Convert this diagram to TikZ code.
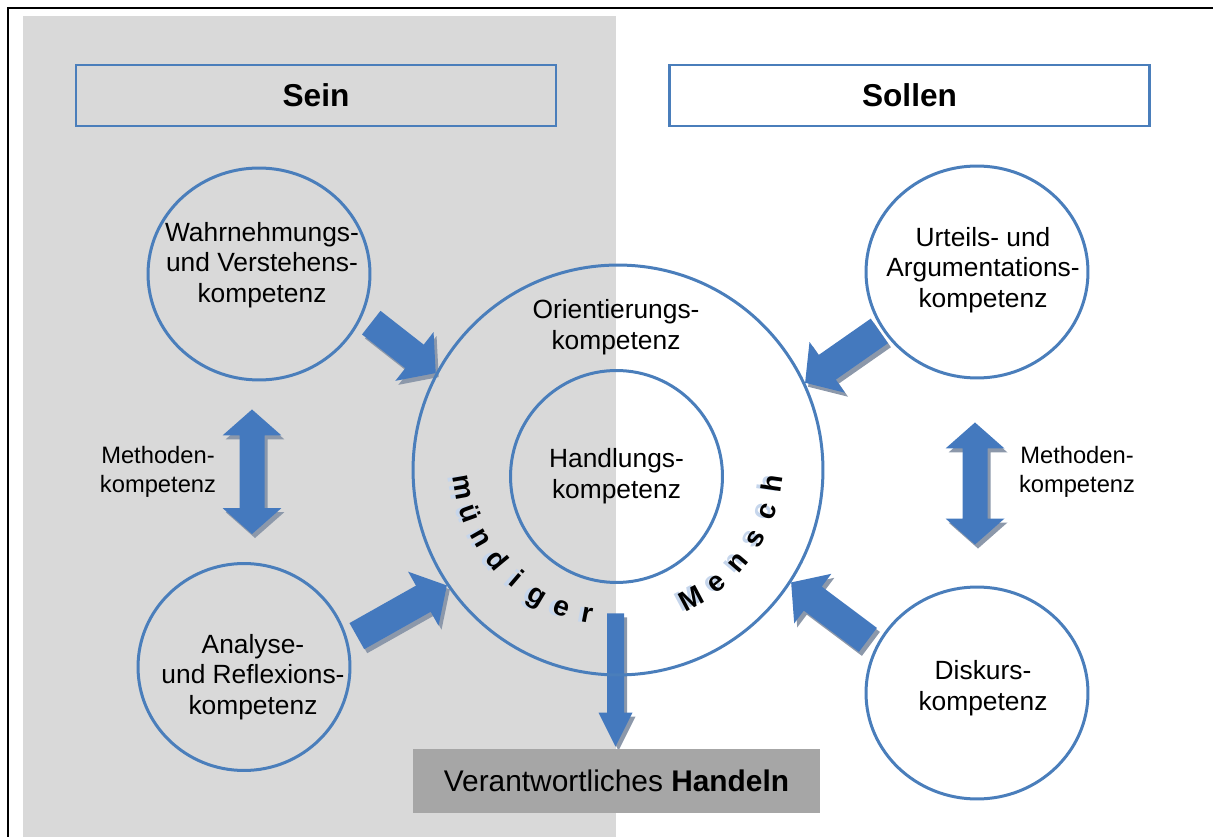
\documentclass[tikz,border=0pt]{standalone}
\usepackage{fontspec}
\setmainfont{Liberation Sans}
\usetikzlibrary{calc,shapes.geometric}

\definecolor{ringblue}{HTML}{4A7EBB}
\definecolor{arrowblue}{HTML}{4479BE}
\definecolor{shadowgray}{HTML}{8C98AA}
\definecolor{seingray}{HTML}{D9D9D9}
\definecolor{handelngray}{HTML}{A6A6A6}
\definecolor{glowblue}{HTML}{C6D6EC}

\pgfdeclarelayer{back}
\pgfdeclarelayer{arrowlayer}
\pgfsetlayers{back,arrowlayer,main}

\tikzset{
  ring/.style = {ellipse, draw=ringblue, line width=0.06cm, inner sep=0pt,
                 minimum width=4.44cm, minimum height=4.24cm},
  txt/.style = {align=center, font=\fontsize{15}{17.5}\selectfont},
  small/.style = {align=center, font=\fontsize{13.5}{16.4}\selectfont},
  title/.style = {draw=ringblue, line width=0.05cm, minimum width=9.6cm,
                  minimum height=1.22cm, font=\fontsize{18}{20}\selectfont\bfseries},
  letter/.style = {anchor=base, inner sep=0pt, font=\fontsize{16}{16}\selectfont\bfseries},
}

% fat arrow with a grey shadow: tail, tip, half shaft, half head, head length
\newcommand{\arrowshape}[1]{%
  \fill[#1] ($(tail)!\arrshaft!90:(tip)$) -- ($(neck)!\arrshaft!-90:(tail)$)
    -- ($(neck)!\arrhead!-90:(tail)$) -- (tip) -- ($(neck)!\arrhead!90:(tail)$)
    -- ($(neck)!\arrshaft!90:(tail)$) -- ($(tail)!\arrshaft!-90:(tip)$) -- cycle;
}
\newcommand{\blockarrow}[5]{%
  \coordinate (tail) at (#1);
  \coordinate (tip) at (#2);
  \coordinate (neck) at ($(tip)!#5!(tail)$);
  \def\arrshaft{#3}\def\arrhead{#4}%
  \arrowshape{shadowgray, transform canvas={shift={(3,4)}}}
  \arrowshape{arrowblue}
}
% the same with a head on both ends
\newcommand{\twinshape}[1]{%
  \fill[#1] (enda) -- ($(necka)!\arrhead!90:(enda)$) -- ($(necka)!\arrshaft!90:(enda)$)
    -- ($(neckb)!\arrshaft!-90:(endb)$) -- ($(neckb)!\arrhead!-90:(endb)$) -- (endb)
    -- ($(neckb)!\arrhead!90:(endb)$) -- ($(neckb)!\arrshaft!90:(endb)$)
    -- ($(necka)!\arrshaft!-90:(enda)$) -- ($(necka)!\arrhead!-90:(enda)$) -- cycle;
}
\newcommand{\doublearrow}[5]{%
  \coordinate (enda) at (#1);
  \coordinate (endb) at (#2);
  \coordinate (necka) at ($(enda)!#5!(endb)$);
  \coordinate (neckb) at ($(endb)!#5!(enda)$);
  \def\arrshaft{#3}\def\arrhead{#4}%
  \twinshape{shadowgray, transform canvas={shift={(3,4)}}}
  \twinshape{arrowblue}
}
% bold letter with a pale copy shifted to the left on the page
\newcommand{\glowletter}[2]{%
  \pgfmathsetmacro\glowx{-2.6*cos(#2+90)}%
  \pgfmathsetmacro\glowy{2.6*sin(#2+90)}%
  \rlap{\hspace{\glowx pt}\raisebox{\glowy pt}{\color{glowblue}#1}}#1%
}

\begin{document}
\begin{tikzpicture}[x=0.02cm, y=-0.02cm]
\useasboundingbox (0,0) rectangle (1213,837);

% grey half and frame
\begin{pgfonlayer}{back}
\fill[seingray] (23,16) rectangle (616,837);
\end{pgfonlayer}
\draw[line width=0.04cm] (8,837) -- (8,8) -- (1213,8);

% headings
\node[title] (sein) at (316,95.5) {Sein};
\node[title, fill=white] (sollen) at (909.5,95.5) {Sollen};

% outer competences
\node[ring] (wahr) at (259,274) {};
\node[txt] (wahr-t) at (262,265) {Wahrnehmungs-\\und Verstehens-\\kompetenz};
\node[ring, minimum width=4.24cm, minimum height=4.14cm] (analyse) at (244,667) {};
\node[txt] (analyse-t) at (253,677) {Analyse-\\und Reflexions-\\kompetenz};
\node[ring] (urteil) at (977,272) {};
\node[txt] (urteil-t) at (983,270) {Urteils- und\\Argumentations-\\kompetenz};
\node[ring] (diskurs) at (977,693) {};
\node[txt] (diskurs-t) at (983,688) {Diskurs-\\kompetenz};

% centre
\node[circle, draw=ringblue, line width=0.06cm, minimum size=8.2cm] (orient) at (618,470) {};
\node[txt] (orient-t) at (616,327) {Orientierungs-\\kompetenz};
\node[circle, draw=ringblue, line width=0.06cm, minimum size=4.24cm, txt] (handlung) at (616.5,476.5) {Handlungs-\\kompetenz};

\node[small] (meth-l) at (158,472) {Methoden-\\kompetenz};
\node[small] (meth-r) at (1077,472) {Methoden-\\kompetenz};

% result
\node[fill=handelngray, minimum width=8.14cm, minimum height=1.28cm,
      font=\fontsize{17}{20}\selectfont] (handeln) at (616.5,781) {Verantwortliches \textbf{Handeln}};

% lettering round the ring
\foreach \ch [count=\i, evaluate=\i as \a using 190+(\i-1)*9.85] in {m,ü,n,d,i,g,e,r}
  \node[letter, rotate=\a+90] (mu-\i) at ({618+166*cos(\a)},{460-166*sin(\a)}) {\glowletter{\ch}{\a}};
\foreach \ch [count=\i, evaluate=\i as \a using 298+(\i-1)*10.7] in {M,e,n,s,c,h}
  \node[letter, rotate=\a+90] (me-\i) at ({618+166*cos(\a)},{460-166*sin(\a)}) {\glowletter{\ch}{\a}};

% arrows
\begin{pgfonlayer}{arrowlayer}
\blockarrow{$(wahr.-22)!0.22cm!(orient.152)$}{orient.152}{0.3cm}{0.62cm}{0.54cm}
\blockarrow{$(analyse.14)!0.2cm!(orient.214)$}{orient.214}{0.3cm}{0.62cm}{0.54cm}
\blockarrow{$(urteil.211)!0.06cm!(orient.25)$}{orient.25}{0.3cm}{0.62cm}{0.54cm}
\blockarrow{$(diskurs.155)!0.2cm!(orient.-33)$}{orient.-33}{0.3cm}{0.62cm}{0.54cm}
\blockarrow{$(orient.south)+(-2.5,-63)$}{$(handeln.north)+(-1,-2)$}{0.17cm}{0.34cm}{0.68cm}
\doublearrow{$(wahr.south)+(-7,28)$}{$(analyse.north)+(8,-28)$}{0.25cm}{0.59cm}{0.52cm}
\doublearrow{$(urteil.south)+(-2,43)$}{$(diskurs.north)+(-2,-41)$}{0.25cm}{0.59cm}{0.52cm}
\end{pgfonlayer}
\end{tikzpicture}
\end{document}
